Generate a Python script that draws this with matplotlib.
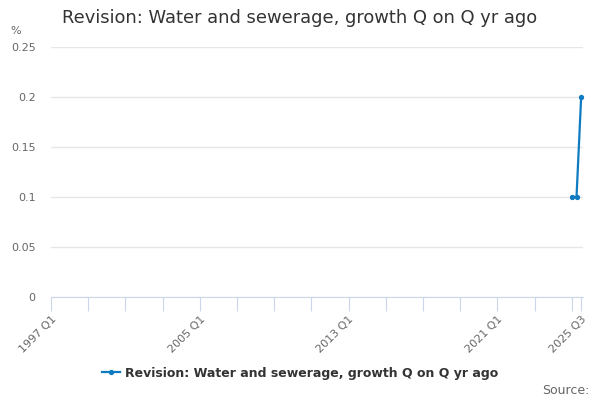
import numpy as np
import matplotlib.pyplot as plt

# all quarters on the axis
quarters = [f"{y} Q{q}" for y in range(1997, 2026) for q in range(1, 5)]
quarters = quarters[:quarters.index("2025 Q3") + 1]

# the only points that carry data
periods = ["2025 Q1", "2025 Q2", "2025 Q3"]
values = [0.1, 0.1, 0.2]

label_quarters = ["1997 Q1", "2005 Q1", "2013 Q1", "2021 Q1", "2025 Q3"]
yticks = [0, 0.05, 0.1, 0.15, 0.2, 0.25]
ytick_labels = ["0", "0.05", "0.1", "0.15", "0.2", "0.25"]

series_name = "Revision: Water and sewerage, growth Q on Q yr ago"
line_color = "#0f7cc2"


def main():
    fig = plt.figure(figsize=(6, 4), dpi=100)
    ax = fig.add_axes([0.085, 0.2575, 0.8867, 0.625])

    x = [quarters.index(p) for p in periods]
    ax.plot(x, values, color=line_color, lw=1.6, marker="o", ms=2.8,
            label=series_name, zorder=3, clip_on=False)

    ax.set_xlim(0, len(quarters) - 1 + 0.4)
    ax.set_ylim(0, 0.25)

    ax.set_yticks(yticks)
    ax.set_yticklabels(ytick_labels)
    ax.grid(axis="y", color="#e6e6e6", lw=1)
    ax.set_axisbelow(True)

    tick_pos = list(range(0, len(quarters), 8)) + [len(quarters) - 1]
    ax.set_xticks(tick_pos)
    ax.set_xticklabels([quarters[i] if quarters[i] in label_quarters else ""
                        for i in tick_pos],
                       rotation=45, ha="right", rotation_mode="anchor")

    for s in ["top", "right", "left"]:
        ax.spines[s].set_visible(False)
    ax.spines["bottom"].set_color("#ccd6eb")
    ax.tick_params(axis="x", length=10, color="#ccd6eb", labelsize=8,
                   labelcolor="#666666", pad=2)
    ax.tick_params(axis="y", length=0, labelsize=8, labelcolor="#666666", pad=11)
    for lab in ax.get_yticklabels():
        lab.set_horizontalalignment("right")

    fig.text(0.017, 0.915, "%", fontsize=8, color="#666666")
    fig.text(0.5, 0.955, "Revision: Water and sewerage, growth Q on Q yr ago",
             fontsize=12.9, color="#333333", ha="center", va="center")
    fig.text(0.982, 0.015, "Source:", fontsize=9, color="#666666", ha="right")

    leg = fig.legend(loc="center", bbox_to_anchor=(0.5, 0.067), frameon=False,
                     prop={"weight": "bold", "size": 9}, handlelength=1.4,
                     handletextpad=0.4)
    for t in leg.get_texts():
        t.set_color("#333333")

    fig.savefig("out.png", dpi=100)


main()
